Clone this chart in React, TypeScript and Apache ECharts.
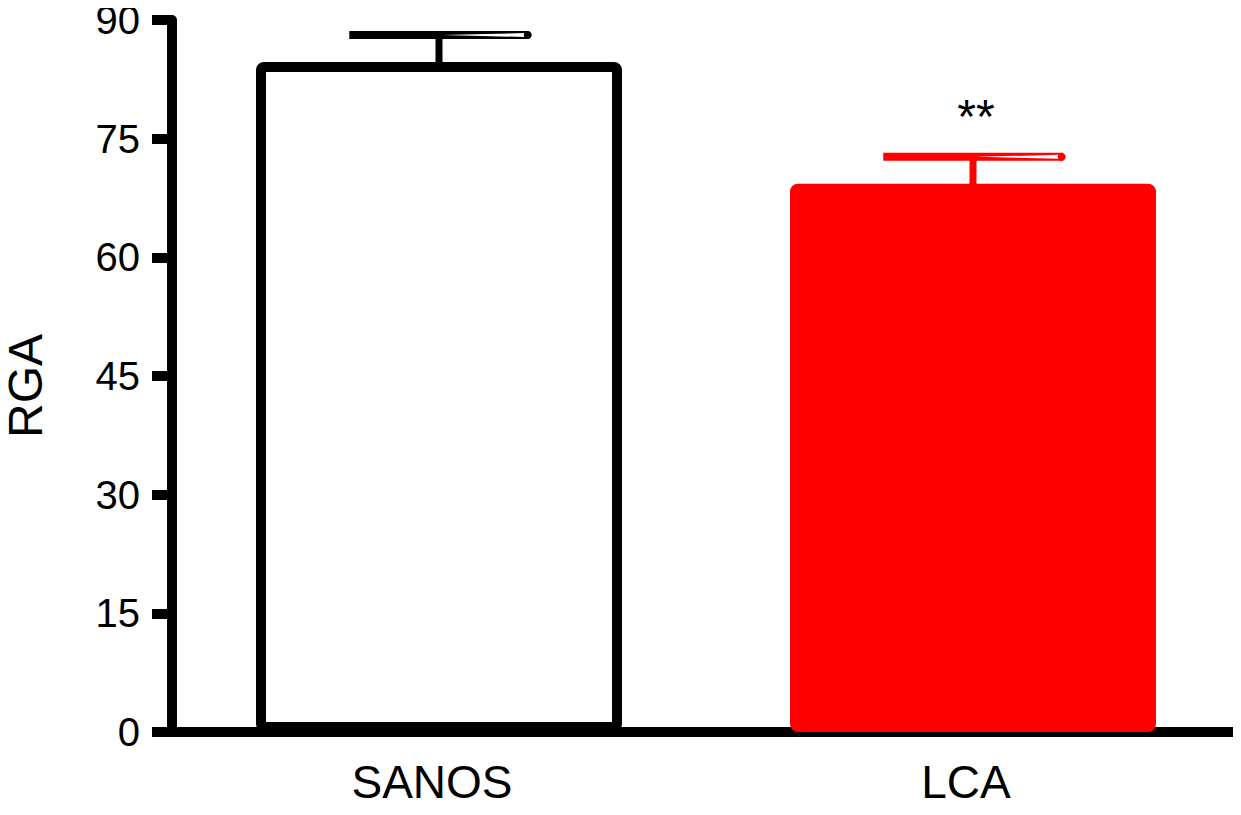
import React, { useEffect, useRef } from "react";
import * as echarts from "echarts";

const categories = ["SANOS", "LCA"];
const means = [84.7, 69.3];
const sems = [3.4, 3.4];
const significance = ["", "**"];
const yTicks = { min: 0, max: 90, interval: 15 };
const barFill = ["#ffffff", "#ff0000"];
const barStroke = ["#000000", "#ff0000"];

const FONT = "'Liberation Sans', Arial, Helvetica, sans-serif";

export default function App() {
  const ref = useRef<HTMLDivElement>(null);
  useEffect(() => {
    if (!ref.current) return;
    const chart = echarts.init(ref.current, undefined, { renderer: "svg" });
    const option: any = {
      animation: false,
      backgroundColor: "#ffffff",
      grid: { left: 172, right: 1, top: 18, bottom: 83, containLabel: false },
      xAxis: {
        type: "category",
        data: categories,
        axisLine: { lineStyle: { color: "#000", width: 10 } },
        axisTick: { show: false },
        axisLabel: {
          color: "#000",
          fontSize: 46,
          fontFamily: FONT,
          margin: 27,
          padding: [0, 14, 0, 0],
        },
      },
      yAxis: {
        type: "value",
        min: yTicks.min,
        max: yTicks.max,
        interval: yTicks.interval,
        splitLine: { show: false },
        axisLine: { show: true, lineStyle: { color: "#000", width: 10 } },
        axisTick: { show: true, length: 20, lineStyle: { color: "#000", width: 10 } },
        axisLabel: {
          color: "#000",
          fontSize: 40,
          lineHeight: 36,
          fontFamily: FONT,
          margin: 32,
        },
      },
      graphic: [
        {
          type: "text",
          x: 25,
          y: 386,
          rotation: Math.PI / 2,
          style: {
            text: "RGA",
            fontSize: 48,
            fontFamily: FONT,
            fill: "#000",
            align: "center",
            verticalAlign: "middle",
          },
        },
      ],
      series: [
        {
          type: "bar",
          barWidth: 366,
          data: means.map((v, i) => ({
            value: v,
            itemStyle: {
              color: barFill[i],
              borderColor: barStroke[i],
              borderWidth: 10,
              borderRadius: 3,
            },
          })),
          z: 1,
        },
        {
          type: "custom",
          z: 3,
          data: means.map((m, i) => [i, m, sems[i]]),
          encode: { x: 0, y: 1 },
          renderItem: (params: any, api: any) => {
            const i = params.dataIndex;
            const idx = api.value(0);
            const mean = api.value(1);
            const err = api.value(2);
            const base = api.coord([idx, mean]);
            const top = api.coord([idx, mean + err]);
            const half = api.size([1, 0])[0] * 0.168;
            const color = barStroke[i];
            const x = base[0];
            const children: any[] = [
              {
                type: "line",
                shape: { x1: x, y1: base[1] + 2, x2: x, y2: top[1] },
                style: { stroke: color, lineWidth: 7 },
              },
              {
                type: "line",
                shape: { x1: x - half, y1: top[1], x2: x + half, y2: top[1] },
                style: { stroke: color, lineWidth: 8 },
              },
              {
                type: "polygon",
                shape: {
                  points: [
                    [x + 3, top[1]],
                    [x + half - 3, top[1] - 2],
                    [x + half - 3, top[1] + 2],
                  ],
                },
                style: { fill: "#ffffff" },
              },
              {
                type: "circle",
                shape: { cx: x + half - 1, cy: top[1], r: 4 },
                style: { fill: color },
              },
            ];
            if (significance[i]) {
              children.push({
                type: "text",
                x: x + 3,
                y: top[1] - 40,
                style: {
                  text: significance[i],
                  fontSize: 48,
                  fontFamily: FONT,
                  fill: "#000",
                  align: "center",
                  verticalAlign: "middle",
                },
              });
            }
            return { type: "group", children };
          },
        },
      ],
    };
    chart.setOption(option);
    return () => chart.dispose();
  }, []);
  return <div ref={ref} style={{ width: 1241, height: 815, margin: -8 }} />;
}
